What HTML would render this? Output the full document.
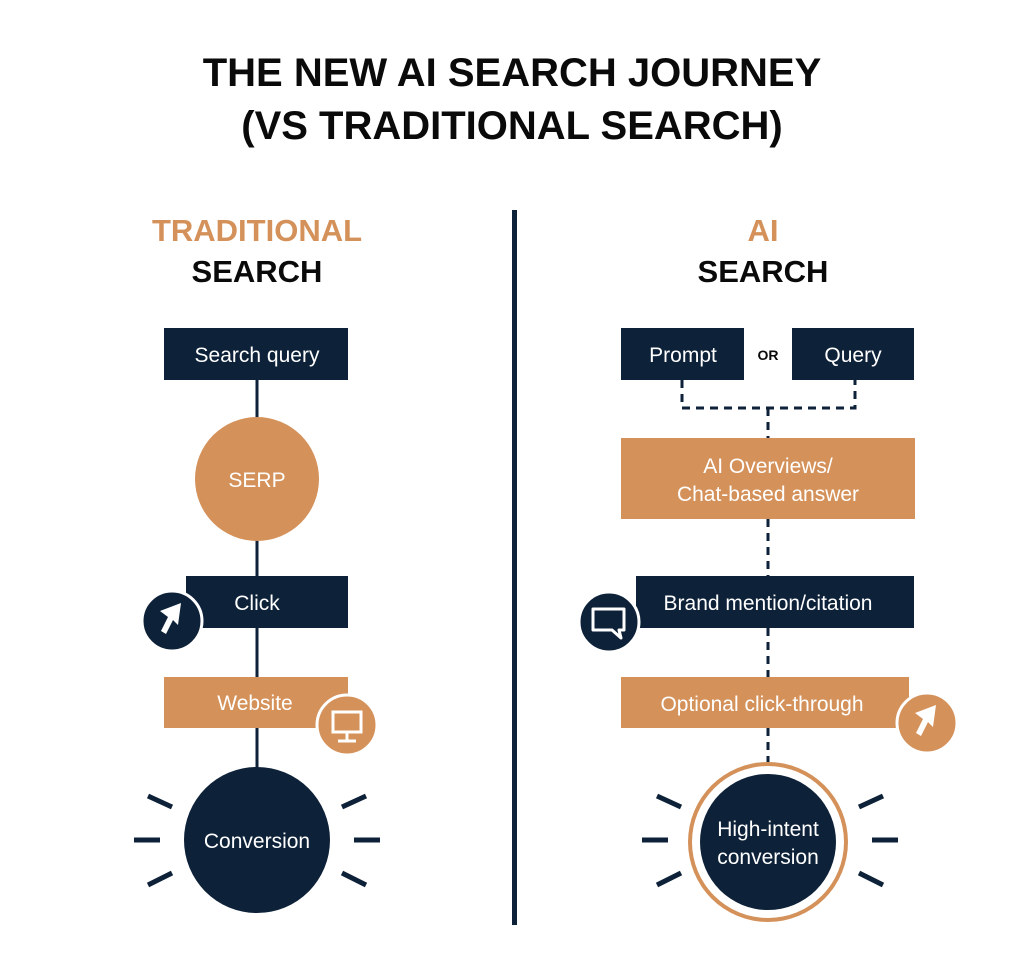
<!DOCTYPE html>
<html><head><meta charset="utf-8"><style>
body{margin:0;background:#fff;}
svg{display:block;font-family:"Liberation Sans",sans-serif;}
</style></head><body>
<svg width="1024" height="967" viewBox="0 0 1024 967" xmlns="http://www.w3.org/2000/svg">
<g font-weight="bold" fill="#0a0a0a" text-anchor="middle" font-size="40">
<text x="512" y="86">THE NEW AI SEARCH JOURNEY</text>
<text x="512" y="139">(VS TRADITIONAL SEARCH)</text>
</g>
<g font-weight="bold" text-anchor="middle" font-size="31">
<text x="257" y="241" fill="#d4915a">TRADITIONAL</text>
<text x="257" y="282" fill="#0a0a0a">SEARCH</text>
<text x="763" y="241" fill="#d4915a">AI</text>
<text x="763" y="282" fill="#0a0a0a">SEARCH</text>
</g>
<rect x="512" y="210" width="5" height="715" fill="#0d2138"/>
<!-- left -->
<line x1="257" y1="380" x2="257" y2="780" stroke="#0d2138" stroke-width="3"/>
<rect x="164" y="328" width="184" height="52" fill="#0d2138"/>
<circle cx="257" cy="479" r="62" fill="#d4915a"/>
<rect x="186" y="576" width="162" height="52" fill="#0d2138"/>
<rect x="164" y="677" width="184" height="51" fill="#d4915a"/>
<circle cx="257" cy="840" r="73" fill="#0d2138"/>
<g stroke="#0d2138" stroke-width="5">
<line x1="148" y1="796" x2="172" y2="807"/><line x1="134" y1="840" x2="160" y2="840"/><line x1="148" y1="885" x2="172" y2="873"/>
<line x1="366" y1="796" x2="342" y2="807"/><line x1="380" y1="840" x2="354" y2="840"/><line x1="366" y1="885" x2="342" y2="873"/>
</g>
<circle cx="172" cy="621" r="30" fill="#0d2138" stroke="#fff" stroke-width="3"/>
<path d="M160 611 L181 603 L178 625 L173 620 L166 634 L161 631 L168 617 Z" fill="#fff"/>
<circle cx="347" cy="725" r="30" fill="#d4915a" stroke="#fff" stroke-width="3"/>
<rect x="333" y="712" width="28" height="20" fill="none" stroke="#fff" stroke-width="3"/>
<line x1="347" y1="732" x2="347" y2="740" stroke="#fff" stroke-width="3"/><line x1="338" y1="741" x2="356" y2="741" stroke="#fff" stroke-width="3"/>
<g fill="#fff" font-size="21" text-anchor="middle">
<text x="257" y="362">Search query</text>
<text x="257" y="487">SERP</text>
<text x="257" y="610">Click</text>
<text x="255" y="710">Website</text>
<text x="257" y="848">Conversion</text>
</g>
<!-- right -->
<g stroke="#0d2138" stroke-width="3" stroke-dasharray="8,6" fill="none">
<path d="M682 380 V408 H855 V380"/>
<line x1="768" y1="408" x2="768" y2="438"/>
<line x1="768" y1="519" x2="768" y2="576"/>
<line x1="768" y1="628" x2="768" y2="677"/>
<line x1="768" y1="728" x2="768" y2="762"/>
</g>
<rect x="621" y="328" width="123" height="52" fill="#0d2138"/>
<rect x="792" y="328" width="122" height="52" fill="#0d2138"/>
<text x="768" y="360" font-size="14" font-weight="bold" text-anchor="middle" fill="#0a0a0a">OR</text>
<rect x="621" y="438" width="294" height="81" fill="#d4915a"/>
<rect x="636" y="576" width="278" height="52" fill="#0d2138"/>
<rect x="621" y="677" width="288" height="51" fill="#d4915a"/>
<circle cx="768" cy="842" r="80" fill="#d4915a"/>
<circle cx="768" cy="842" r="76" fill="#fff"/>
<circle cx="768" cy="842" r="68" fill="#0d2138"/>
<g stroke="#0d2138" stroke-width="5">
<line x1="657" y1="796" x2="681" y2="807"/><line x1="642" y1="840" x2="668" y2="840"/><line x1="657" y1="885" x2="681" y2="873"/>
<line x1="883" y1="796" x2="859" y2="807"/><line x1="898" y1="840" x2="872" y2="840"/><line x1="883" y1="885" x2="859" y2="873"/>
</g>
<circle cx="609" cy="622" r="30" fill="#0d2138" stroke="#fff" stroke-width="3"/>
<path d="M593 609 H624 V630 H619 L621 638 L612 630 H593 Z" fill="none" stroke="#fff" stroke-width="3" stroke-linejoin="round"/>
<circle cx="927" cy="723" r="30" fill="#d4915a" stroke="#fff" stroke-width="3"/>
<path d="M915 713 L936 705 L933 727 L928 722 L921 736 L916 733 L923 719 Z" fill="#fff"/>
<g fill="#fff" font-size="21" text-anchor="middle">
<text x="683" y="362">Prompt</text>
<text x="853" y="362">Query</text>
<text x="768" y="473">AI Overviews/</text>
<text x="768" y="501">Chat-based answer</text>
<text x="768" y="610">Brand mention/citation</text>
<text x="762" y="711">Optional click-through</text>
<text x="768" y="836">High-intent</text>
<text x="768" y="864">conversion</text>
</g>
</svg>
</body></html>
